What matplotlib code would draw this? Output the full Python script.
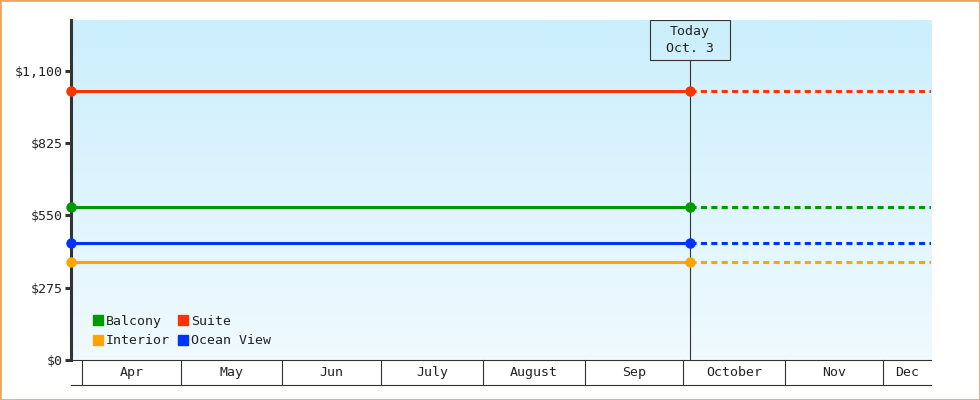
import numpy as np
import matplotlib.pyplot as plt
import matplotlib.dates as mdates
from matplotlib.lines import Line2D
from matplotlib.patches import Rectangle
from matplotlib.ticker import FuncFormatter
from datetime import datetime, timedelta

plt.rcParams['font.family'] = ['DejaVu Sans Mono']
plt.rcParams['font.size'] = 9.5

# data
names = ['Balcony', 'Interior', 'Suite', 'Ocean View']
prices = [581, 372, 1023, 444]
colors = ['#009900', '#FFA500', '#FF3300', '#0033FF']
months = ['Apr', 'May', 'Jun', 'July', 'August', 'Sep', 'October', 'Nov', 'Dec']
month_starts = [datetime(2023, m, 1) for m in range(4, 13)]
start = datetime(2023, 3, 28, 15)
today = datetime(2023, 10, 3)
end = datetime(2023, 12, 15, 12)
yticks = [0, 275, 550, 825, 1100]

dark = '#333333'
fig = plt.figure(figsize=(9.8, 4.0), dpi=100)
ax = fig.add_axes([71 / 980, 40 / 400, 860 / 980, 340 / 400])

# gradient background
top = np.array([203, 239, 252]) / 255
bot = np.array([240, 250, 255]) / 255
g = np.linspace(0, 1, 256)[:, None, None]
img = top + (bot - top) * g
ax.imshow(img, extent=[0, 1, 0, 1], transform=ax.transAxes, aspect='auto', zorder=0)

ax.set_xlim(start, end)
ax.set_ylim(0, 1293)

for n, p, c in zip(names, prices, colors):
    ax.plot([start, today], [p, p], color=c, lw=2.2, marker='o', ms=6.5,
            clip_on=False, zorder=5)
    ax.plot([today, end], [p, p], color=c, lw=2.2, ls=(0, (2, 1.4)), zorder=5)

# today marker
box_h = 40 / 340
ax.axvline(today, ymin=0, ymax=1 - box_h, color=dark, lw=0.8, zorder=3)
days_per_px = (mdates.date2num(end) - mdates.date2num(start)) / 860
bx = mdates.date2num(today) - 40 * days_per_px
ax.add_patch(Rectangle((bx, 1 - box_h), 80 * days_per_px, box_h,
                       transform=ax.get_xaxis_transform(), fill=False,
                       ec=dark, lw=0.8, zorder=6))
ax.text(today, 1 - box_h / 2, 'Today\nOct. 3', transform=ax.get_xaxis_transform(),
        ha='center', va='center', color='#222222', linespacing=1.35, zorder=7)

# y axis
ax.set_yticks(yticks)
ax.yaxis.set_major_formatter(FuncFormatter(lambda v, _: f'${v:,.0f}'))
ax.tick_params(axis='y', length=4, width=2.2, color=dark, pad=2, labelcolor='#222222')
ax.spines['left'].set_linewidth(2.2)
ax.spines['left'].set_color(dark)
for s in ['top', 'right', 'bottom']:
    ax.spines[s].set_visible(False)

# month boxes under the axis
ax.set_xticks([])
tr = ax.get_xaxis_transform()
yb = -25 / 340
ax.plot([start, end], [0, 0], transform=tr, color=dark, lw=0.8, clip_on=False)
ax.plot([start, end], [yb, yb], transform=tr, color=dark, lw=0.8, clip_on=False)
bounds = month_starts + [end]
for i, m in enumerate(months):
    ax.plot([bounds[i], bounds[i]], [0, yb], transform=tr, color=dark, lw=0.8, clip_on=False)
    mid = mdates.num2date((mdates.date2num(bounds[i]) + mdates.date2num(bounds[i + 1])) / 2)
    ax.text(mid, yb / 2, m, transform=tr, ha='center', va='center', color='#222222')

# legend
handles = [Line2D([], [], marker='s', ls='', color=c, ms=7.5, label=n)
           for n, c in zip(names, colors)]
ax.legend(handles=handles, ncol=2, loc='lower left', bbox_to_anchor=(0.01, 0.002),
          frameon=False, handletextpad=0.1, columnspacing=0.5, handlelength=1,
          labelspacing=0.48, labelcolor='#222222')

fig.patches.append(Rectangle((0, 0), 1, 1, transform=fig.transFigure, fill=False,
                             ec='#EFA65A', lw=2))

fig.savefig('out.png', dpi=100)
